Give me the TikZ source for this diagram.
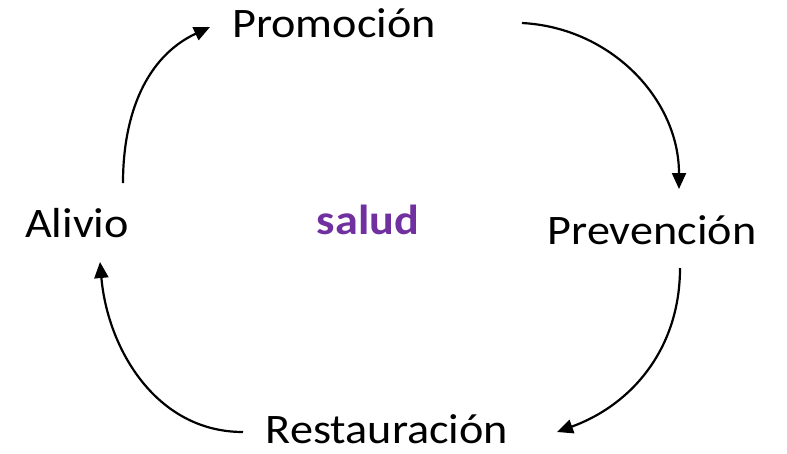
\documentclass[tikz,border=0pt]{standalone}
\usepackage{fontspec}
\setmainfont{Carlito}
\usetikzlibrary{arrows.meta, positioning}
\definecolor{saludpurple}{HTML}{7030A0}

\begin{document}
\begin{tikzpicture}[
        x=1pt, y=-1pt,
        term/.style={inner sep=0pt, anchor=base, xscale=1.1, font=\fontsize{42}{50}\selectfont},
        arrow/.style={line width=2.2pt, -{Triangle[length=16pt,width=14pt]}}
    ]
        \useasboundingbox (0,0) rectangle (787,453);

        \node[term] (prom) at (334,37) {Promoción};
        \node[term] (prev) at (652,244) {Prevención};
        \node[term] (rest) at (387,443) {Restauración};
        \node[term] (aliv) at (77,237) {Alivio};
        \node[term, font=\fontsize{42}{50}\selectfont\bfseries, text=saludpurple] (salud) at (368,234) {salud};

        \draw[arrow] ([xshift=46pt,yshift=54pt]aliv.base) to[out=90, in=205] ([xshift=-124pt,yshift=10pt]prom.base);
        \draw[arrow] ([xshift=188pt,yshift=14pt]prom.base) to[out=-3, in=90] ([xshift=27pt,yshift=55pt]prev.base);
        \draw[arrow] ([xshift=28pt,yshift=-24pt]prev.base) to[out=-90, in=20] ([xshift=170pt,yshift=11pt]rest.base);
        \draw[arrow] ([xshift=-144pt,yshift=11pt]rest.base) to[out=180, in=-85] ([xshift=23pt,yshift=-25pt]aliv.base);
    \end{tikzpicture}
\end{document}
